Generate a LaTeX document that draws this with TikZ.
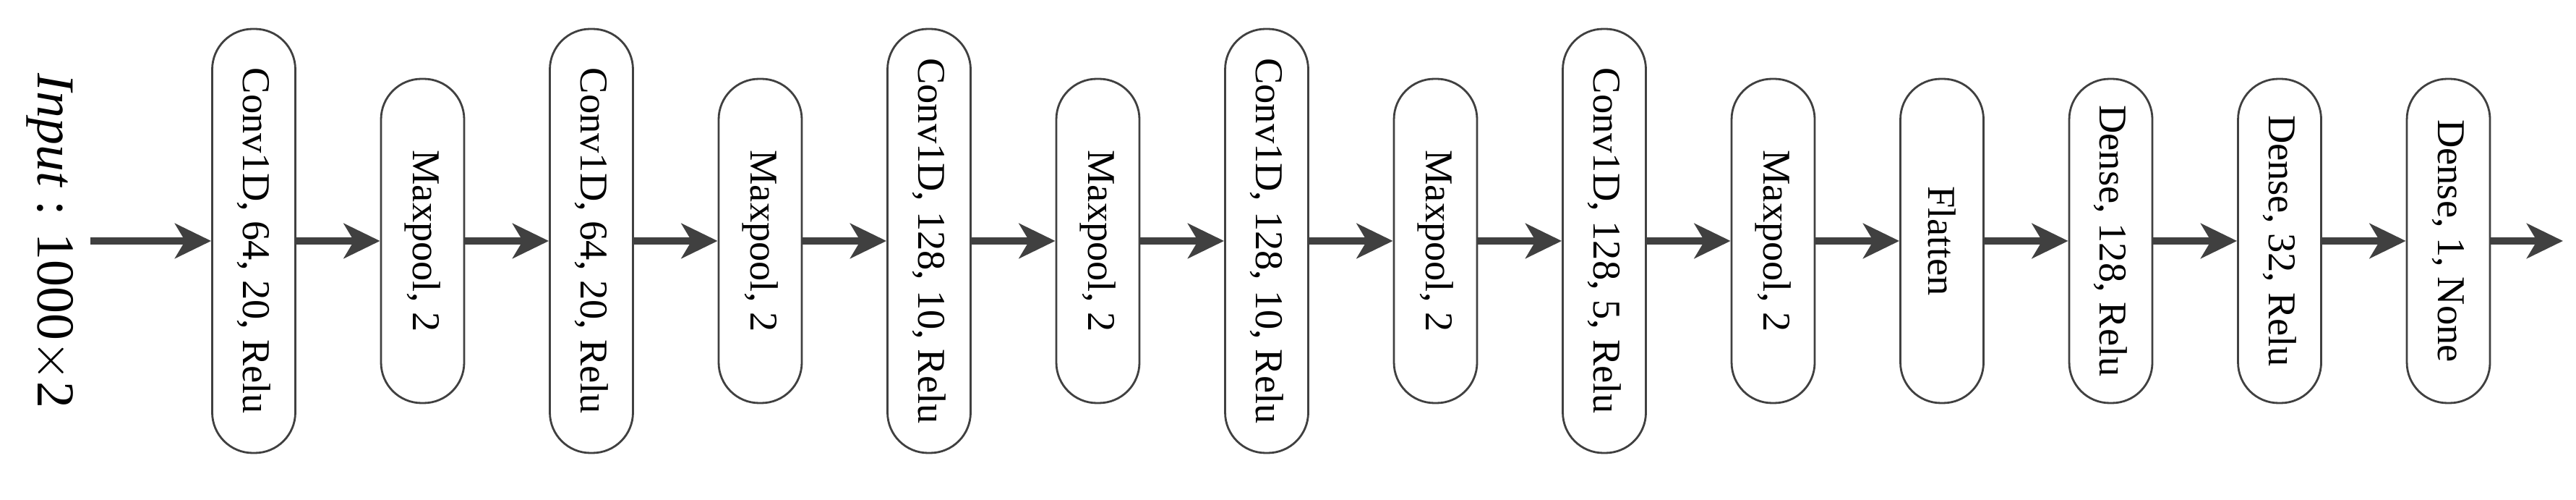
\documentclass[tikz,border=0pt]{standalone}
\usepackage{fontspec}
\setmainfont{Liberation Serif}
\usetikzlibrary{arrows.meta}
\definecolor{lc}{HTML}{404040}
\tikzset{
  layer/.style={draw=lc, line width=0.8pt, fill=white, rounded corners=0.56cm, minimum width=1.15cm, inner sep=0pt, font=\fontsize{15.5}{18}\selectfont},
  tall/.style={layer, minimum height=5.86cm},
  short/.style={layer, minimum height=4.48cm},
  conn/.style={draw=lc, line width=2.6pt, -{Stealth[length=0.5cm, width=0.48cm, inset=0.14cm]}}
}
\begin{document}
\begin{tikzpicture}
\useasboundingbox (0,0) rectangle (35.63,6.9);
\node[rotate=-90, font=\fontsize{21}{24}\selectfont] (in) at (0.69,3.57) {\textit{Input} : 1000$\times$2};
\coordinate (s) at (1.25,3.57);
\def\pp{2.335}
\node[tall]  (n1)  at (3.51+0*\pp,3.57) {\rotatebox{-90}{Conv1D, 64, 20, Relu}};
\node[short] (n2)  at (3.51+1*\pp,3.57) {\rotatebox{-90}{Maxpool, 2}};
\node[tall]  (n3)  at (3.51+2*\pp,3.57) {\rotatebox{-90}{Conv1D, 64, 20, Relu}};
\node[short] (n4)  at (3.51+3*\pp,3.57) {\rotatebox{-90}{Maxpool, 2}};
\node[tall]  (n5)  at (3.51+4*\pp,3.57) {\rotatebox{-90}{Conv1D, 128, 10, Relu}};
\node[short] (n6)  at (3.51+5*\pp,3.57) {\rotatebox{-90}{Maxpool, 2}};
\node[tall]  (n7)  at (3.51+6*\pp,3.57) {\rotatebox{-90}{Conv1D, 128, 10, Relu}};
\node[short] (n8)  at (3.51+7*\pp,3.57) {\rotatebox{-90}{Maxpool, 2}};
\node[tall]  (n9)  at (3.51+8*\pp,3.57) {\rotatebox{-90}{Conv1D, 128, 5, Relu}};
\node[short] (n10) at (3.51+9*\pp,3.57) {\rotatebox{-90}{Maxpool, 2}};
\node[short] (n11) at (3.51+10*\pp,3.57) {\rotatebox{-90}{Flatten}};
\node[short] (n12) at (3.51+11*\pp,3.57) {\rotatebox{-90}{Dense, 128, Relu}};
\node[short] (n13) at (3.51+12*\pp,3.57) {\rotatebox{-90}{Dense, 32, Relu}};
\node[short] (n14) at (3.51+13*\pp,3.57) {\rotatebox{-90}{Dense, 1, None}};
\coordinate (e) at (35.45,3.57);
\draw[conn] (s) -- (n1);
\foreach \a/\b in {1/2,2/3,3/4,4/5,5/6,6/7,7/8,8/9,9/10,10/11,11/12,12/13,13/14}
  \draw[conn] (n\a) -- (n\b);
\draw[conn] (n14) -- (e);
\end{tikzpicture}
\end{document}
